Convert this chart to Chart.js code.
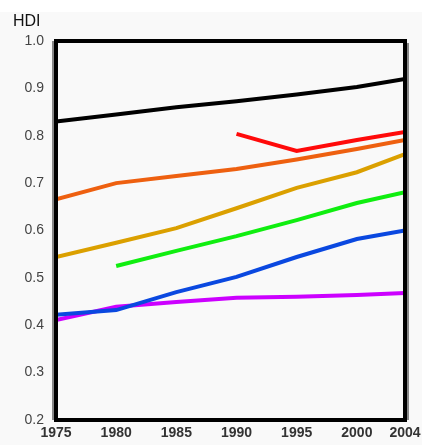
<!DOCTYPE html>
<html>
<head>
<meta charset="utf-8">
<script src="https://cdn.jsdelivr.net/npm/chart.js@4/dist/chart.umd.min.js"></script>
<style>
html,body{margin:0;padding:0;background:#f9f9f9;}
#wrap{position:relative;width:422px;height:445px;background:#f9f9f9;}
#topband{position:absolute;left:0;top:0;width:422px;height:12px;background:#fff;}
canvas{position:absolute;left:0;top:0;}
</style>
</head>
<body>
<div id="wrap"><div id="topband"></div><canvas id="c" width="422" height="445"></canvas></div>
<script>
const years = [1975, 1980, 1985, 1990, 1995, 2000, 2004];
const xTicks = [1975, 1980, 1985, 1990, 1995, 2000, 2004];
const yTicks = [0.2, 0.3, 0.4, 0.5, 0.6, 0.7, 0.8, 0.9, 1.0];
const seriesBlack  = [0.830, 0.845, 0.860, 0.873, 0.887, 0.903, 0.920];
const seriesRed    = [null, null, null, 0.804, 0.768, 0.791, 0.808];
const seriesOrange = [0.666, 0.700, 0.715, 0.730, 0.750, 0.772, 0.791];
const seriesGold   = [0.544, 0.574, 0.605, 0.647, 0.690, 0.723, 0.761];
const seriesGreen  = [null, 0.525, 0.557, 0.588, 0.622, 0.658, 0.681];
const seriesBlue   = [0.422, 0.432, 0.470, 0.502, 0.544, 0.582, 0.600];
const seriesPurple = [0.411, 0.439, 0.449, 0.458, 0.460, 0.464, 0.468];

function pts(arr){ return years.map((y,i)=>({x:y,y:arr[i]})); }
function ds(arr,color){
  return {data:pts(arr),borderColor:color,backgroundColor:color,borderWidth:4,pointRadius:0,tension:0,spanGaps:false};
}

const framePlugin = {
  id:'frame',
  afterDatasetsDraw(chart){
    const {ctx, chartArea:a} = chart;
    ctx.save();
    ctx.strokeStyle='#888';
    ctx.lineWidth=2;
    ctx.beginPath();
    ctx.moveTo(a.left-3, a.top); ctx.lineTo(a.left-3, a.bottom);
    ctx.moveTo(a.right+3, a.top+2); ctx.lineTo(a.right+3, a.bottom);
    ctx.stroke();
    ctx.strokeStyle='#000';
    ctx.lineWidth=4;
    ctx.strokeRect(a.left, a.top, a.right-a.left, a.bottom-a.top);
    ctx.fillStyle='#111';
    ctx.font='16px "Liberation Sans", Arial, sans-serif';
    ctx.textAlign='left';
    ctx.textBaseline='middle';
    ctx.fillText('HDI', 13, 22);
    ctx.restore();
  }
};

new Chart(document.getElementById('c'), {
  type:'line',
  data:{datasets:[
    ds(seriesBlack,'#000000'),
    ds(seriesRed,'#ff0a0a'),
    ds(seriesOrange,'#ee6010'),
    ds(seriesGold,'#dba000'),
    ds(seriesGreen,'#10ee10'),
    ds(seriesBlue,'#0a48e0'),
    ds(seriesPurple,'#cc00ff')
  ]},
  options:{
    responsive:false,
    animation:false,
    devicePixelRatio:1,
    layout:{padding:{top:41,right:0,left:0,bottom:0}},
    plugins:{legend:{display:false},tooltip:{enabled:false}},
    scales:{
      x:{
        type:'linear',min:1975,max:2004,
        afterBuildTicks(s){ s.ticks = xTicks.map(v=>({value:v})); },
        afterFit(s){ s.height = 25; s.paddingRight = 17; },
        grid:{display:false,drawTicks:false},
        border:{display:false},
        ticks:{color:'#333',font:{family:'"Liberation Sans", Arial, sans-serif',size:14,weight:'bold'},padding:5,maxRotation:0,autoSkip:false,callback:v=>String(v)}
      },
      y:{
        type:'linear',min:0.2,max:1.0,
        afterBuildTicks(s){ s.ticks = yTicks.map(v=>({value:v})); },
        afterFit(s){ s.width = 56; },
        grid:{display:false,drawTicks:false},
        border:{display:false},
        ticks:{color:'#444',font:{family:'"Liberation Sans", Arial, sans-serif',size:14},padding:12,callback:v=>Number(v).toFixed(1)}
      }
    }
  },
  plugins:[framePlugin]
});
</script>
</body>
</html>
